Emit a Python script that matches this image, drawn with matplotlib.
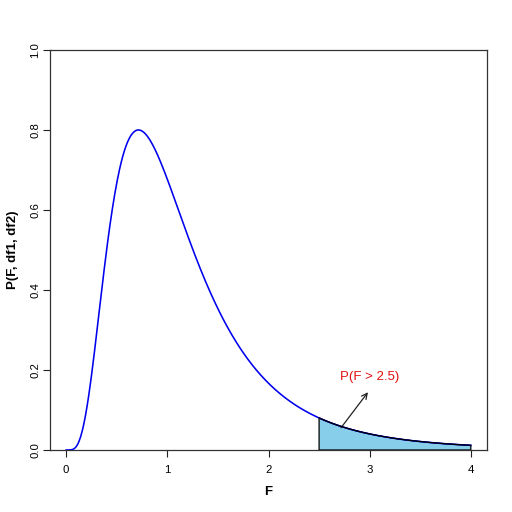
import numpy as np, math
import matplotlib
matplotlib.use("Agg")
import matplotlib.pyplot as plt

df1 = 12
df2 = 12
x_from = 0.0
x_to = 4.0
cutoff = 2.5
x_ticks = [0, 1, 2, 3, 4]
y_ticks = [0.0, 0.2, 0.4, 0.6, 0.8, 1.0]
label_text = "P(F > 2.5)"
arrow_start = (2.7, 0.05)
arrow_end = (3.0, 0.15)
label_pos = (3.0, 0.183)

def fpdf(x, d1, d2):
    x = np.asarray(x, float)
    lb = math.lgamma(d1/2) + math.lgamma(d2/2) - math.lgamma((d1+d2)/2)
    out = np.zeros_like(x)
    m = x > 0
    xm = x[m]
    lg = 0.5*(d1*np.log(d1*xm) + d2*np.log(d2) - (d1+d2)*np.log(d1*xm + d2)) - np.log(xm) - lb
    out[m] = np.exp(lg)
    return out

plt.rcParams['font.family'] = ['Liberation Sans', 'DejaVu Sans']
fig = plt.figure(figsize=(5.12, 5.12), dpi=100)
ax = fig.add_axes([50/512, 62/512, 437/512, 400/512])

x = np.linspace(x_from, x_to, 501)
y = fpdf(x, df1, df2)
xs = np.linspace(cutoff, x_to, 200)
ys = fpdf(xs, df1, df2)
px = np.concatenate([[cutoff], xs, [x_to]])
py = np.concatenate([[0], ys, [0]])
ax.fill(px, py, facecolor='#87CEEB', edgecolor='black', linewidth=0.9, zorder=2)
ax.plot(x, y, color='#0000EE', linewidth=1.15, zorder=3)
ax.plot(xs, ys, color='black', linewidth=0.9, zorder=4)

ax.annotate("", xy=arrow_end, xytext=arrow_start,
            arrowprops=dict(arrowstyle='->', color='#222222', lw=0.9, mutation_scale=10))
ax.text(label_pos[0], label_pos[1], label_text, color='#E01010', fontsize=9.5,
        ha='center', va='center')

ax.set_xlim(-0.16, 4.16)
ax.set_ylim(0, 1)
ax.set_xticks(x_ticks)
ax.set_xticklabels([str(t) for t in x_ticks])
ax.set_yticks(y_ticks)
ax.set_yticklabels([f"{t:.1f}" for t in y_ticks], rotation=90, va='center')
ax.tick_params(direction='out', length=5, width=0.8, labelsize=8.2, color='#222222')
ax.tick_params(axis='x', pad=6)
ax.tick_params(axis='y', pad=2)
for s in ax.spines.values():
    s.set_linewidth(0.9)
    s.set_color('#333333')
ax.set_xlabel("F", fontweight='bold', fontsize=9.5, labelpad=8)
ax.set_ylabel("P(F, df1, df2)", fontweight='bold', fontsize=9.5, labelpad=8)
fig.savefig("out.png", dpi=100)
